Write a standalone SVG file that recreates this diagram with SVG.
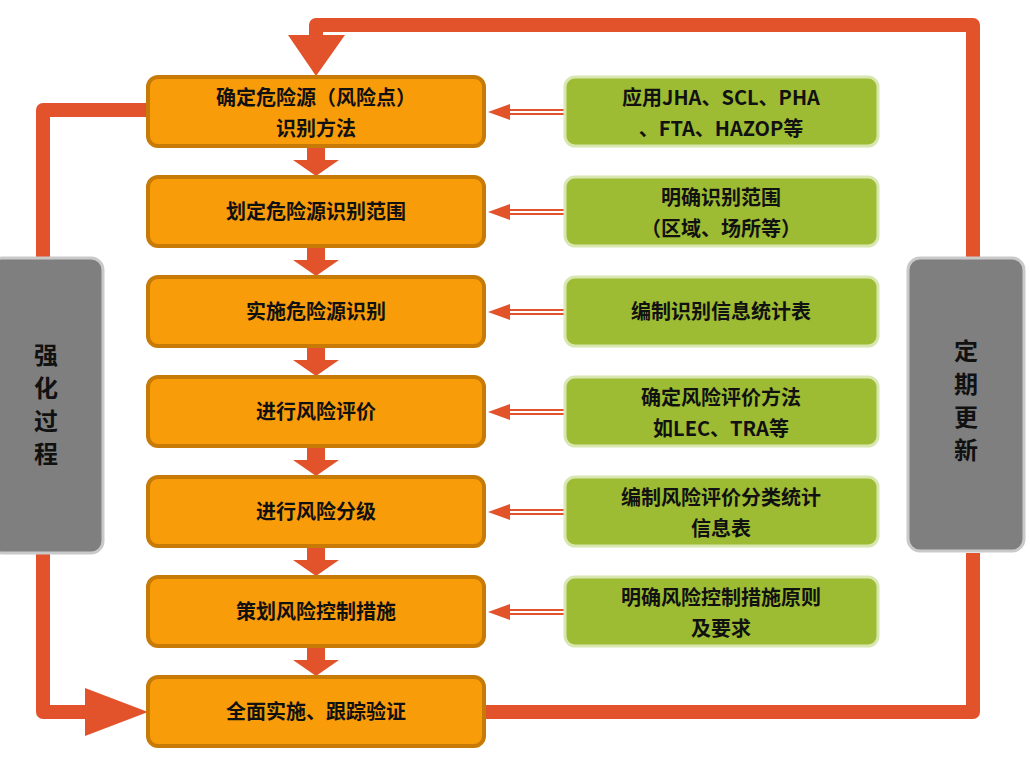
<svg xmlns="http://www.w3.org/2000/svg" width="1030" height="758" viewBox="0 0 1030 758">
<style>
.o{fill:#f99c0a;stroke:#c77a06;stroke-width:4}
.g{fill:#9dbb33;stroke:#d8e6b0;stroke-width:3}
.s{fill:#7f7f7f;stroke:#c9c9c9;stroke-width:3}
.t{font-family:"Noto Sans CJK SC","Liberation Serif",sans-serif;font-weight:bold;font-size:20px;fill:#111;text-anchor:middle}
.b{font-size:24px}
.r{fill:none;stroke:#e2522b;stroke-width:14;stroke-linejoin:round}
.h{fill:#e2522b}
.l{stroke:#e2522b;stroke-width:2}
</style>
<rect width="1030" height="758" fill="#fff"/>
<g id="links">
<path class="r" d="M150 110 H43 V258"/>
<path class="r" d="M43 553 V712 H90"/>
<polygon class="h" points="85,688 148,712 85,736"/>
<path class="r" d="M484 712 H973 V553"/>
<path class="r" d="M973 258 V25 H316 V40"/>
<polygon class="h" points="288,35 345,35 316,76"/>
<g id="down">
<g transform="translate(316,0)">
<path class="h" d="M-9 146 h18 v14 h14 l-23 16 l-23 -16 h14z"/>
<path class="h" d="M-9 246 h18 v14 h14 l-23 16 l-23 -16 h14z"/>
<path class="h" d="M-9 346 h18 v14 h14 l-23 16 l-23 -16 h14z"/>
<path class="h" d="M-9 446 h18 v14 h14 l-23 16 l-23 -16 h14z"/>
<path class="h" d="M-9 546 h18 v14 h14 l-23 16 l-23 -16 h14z"/>
<path class="h" d="M-9 646 h18 v14 h14 l-23 16 l-23 -16 h14z"/>
</g>
</g>
<g id="side">
<g transform="translate(0,112)"><line class="l" x1="505" y1="-2" x2="565" y2="-2"/><line class="l" x1="505" y1="2" x2="565" y2="2"/><polygon class="h" points="488,0 510,-8 510,8"/></g>
<g transform="translate(0,212)"><line class="l" x1="505" y1="-2" x2="565" y2="-2"/><line class="l" x1="505" y1="2" x2="565" y2="2"/><polygon class="h" points="488,0 510,-8 510,8"/></g>
<g transform="translate(0,312)"><line class="l" x1="505" y1="-2" x2="565" y2="-2"/><line class="l" x1="505" y1="2" x2="565" y2="2"/><polygon class="h" points="488,0 510,-8 510,8"/></g>
<g transform="translate(0,412)"><line class="l" x1="505" y1="-2" x2="565" y2="-2"/><line class="l" x1="505" y1="2" x2="565" y2="2"/><polygon class="h" points="488,0 510,-8 510,8"/></g>
<g transform="translate(0,512)"><line class="l" x1="505" y1="-2" x2="565" y2="-2"/><line class="l" x1="505" y1="2" x2="565" y2="2"/><polygon class="h" points="488,0 510,-8 510,8"/></g>
<g transform="translate(0,612)"><line class="l" x1="505" y1="-2" x2="565" y2="-2"/><line class="l" x1="505" y1="2" x2="565" y2="2"/><polygon class="h" points="488,0 510,-8 510,8"/></g>
</g>
</g>
<g id="n1"><rect class="o" x="148" y="77" width="336" height="69" rx="10"/><text class="t" x="316" y="105">确定危险源（风险点）</text><text class="t" x="316" y="136">识别方法</text></g>
<g id="n2"><rect class="o" x="148" y="177" width="336" height="69" rx="10"/><text class="t" x="316" y="219">划定危险源识别范围</text></g>
<g id="n3"><rect class="o" x="148" y="277" width="336" height="69" rx="10"/><text class="t" x="316" y="319">实施危险源识别</text></g>
<g id="n4"><rect class="o" x="148" y="377" width="336" height="69" rx="10"/><text class="t" x="316" y="419">进行风险评价</text></g>
<g id="n5"><rect class="o" x="148" y="477" width="336" height="69" rx="10"/><text class="t" x="316" y="519">进行风险分级</text></g>
<g id="n6"><rect class="o" x="148" y="577" width="336" height="69" rx="10"/><text class="t" x="316" y="619">策划风险控制措施</text></g>
<g id="n7"><rect class="o" x="148" y="677" width="336" height="69" rx="10"/><text class="t" x="316" y="719">全面实施、跟踪验证</text></g>
<g id="g1"><rect class="g" x="565" y="77" width="313" height="69" rx="10"/><text class="t" x="721" y="105">应用JHA、SCL、PHA</text><text class="t" x="721" y="136">、FTA、HAZOP等</text></g>
<g id="g2"><rect class="g" x="565" y="177" width="313" height="69" rx="10"/><text class="t" x="721" y="205">明确识别范围</text><text class="t" x="721" y="236">（区域、场所等）</text></g>
<g id="g3"><rect class="g" x="565" y="277" width="313" height="69" rx="10"/><text class="t" x="721" y="319">编制识别信息统计表</text></g>
<g id="g4"><rect class="g" x="565" y="377" width="313" height="69" rx="10"/><text class="t" x="721" y="405">确定风险评价方法</text><text class="t" x="721" y="436">如LEC、TRA等</text></g>
<g id="g5"><rect class="g" x="565" y="477" width="313" height="69" rx="10"/><text class="t" x="721" y="505">编制风险评价分类统计</text><text class="t" x="721" y="536">信息表</text></g>
<g id="g6"><rect class="g" x="565" y="577" width="313" height="69" rx="10"/><text class="t" x="721" y="605">明确风险控制措施原则</text><text class="t" x="721" y="636">及要求</text></g>
<g id="left"><rect class="s" x="-10" y="258" width="113" height="295" rx="12"/><text class="t b" x="46" y="364">强</text><text class="t b" x="46" y="397">化</text><text class="t b" x="46" y="430">过</text><text class="t b" x="46" y="463">程</text></g>
<g id="right"><rect class="s" x="908" y="258" width="116" height="293" rx="12"/><text class="t b" x="966" y="360">定</text><text class="t b" x="966" y="393">期</text><text class="t b" x="966" y="426">更</text><text class="t b" x="966" y="459">新</text></g>
</svg>
